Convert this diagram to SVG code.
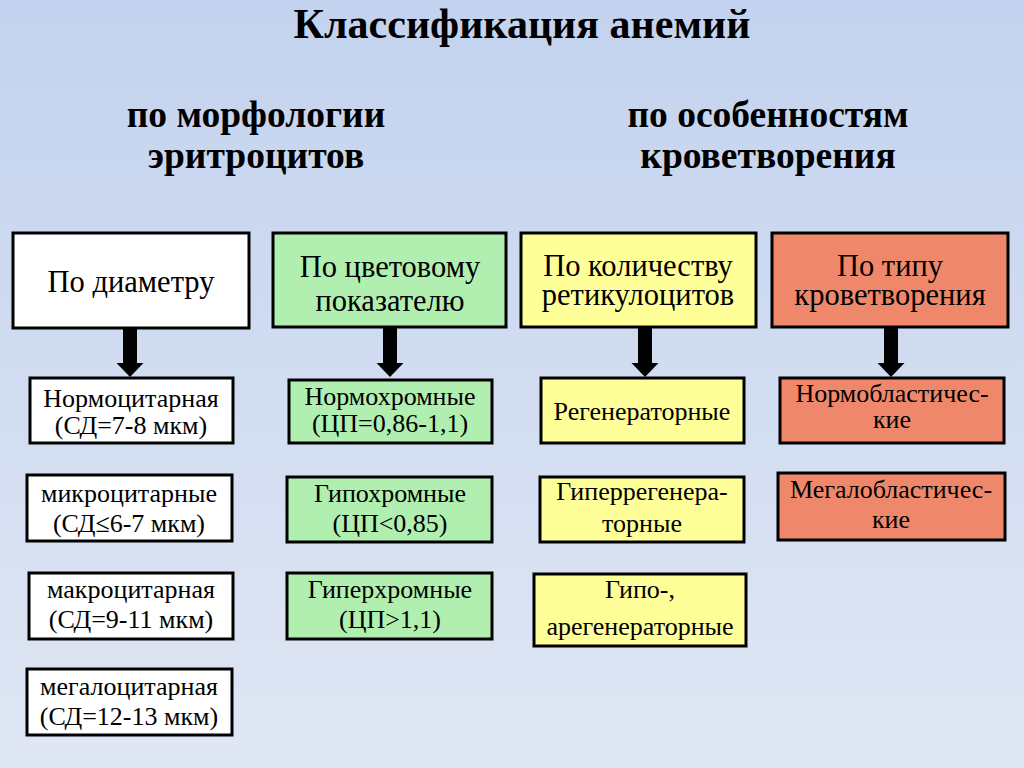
<svg xmlns="http://www.w3.org/2000/svg" xmlns:xlink="http://www.w3.org/1999/xlink" width="1024" height="768" viewBox="0 0 1024 768">
<defs>
<linearGradient id="bg" x1="0" y1="0" x2="0" y2="1">
<stop offset="0" stop-color="#c3d2ee"/>
<stop offset="1" stop-color="#e0e7f4"/>
</linearGradient>
<path id="arr" d="M -7 0 L 7 0 L 7 35 L 13.5 35 L 0 49 L -13.5 35 L -7 35 Z" fill="#000"/>
</defs>
<style>
.b{stroke:#000;stroke-width:3}
.w{fill:#fff}
.g{fill:#b1efb1}
.y{fill:#ffff99}
.s{fill:#ef886b}
text{fill:#000;text-anchor:middle}
.t{font-size:42px;font-weight:bold}
.st{font-size:37.5px;font-weight:bold}
.h{font-size:30.5px}
.c{font-size:26px}
</style>
<rect width="1024" height="768" fill="url(#bg)"/>
<g font-family="Liberation Serif, Times New Roman, DejaVu Serif, serif">
<text class="t" x="522" y="38">Классификация анемий</text>
<text class="st" x="256" y="127">по морфологии</text>
<text class="st" x="256" y="168">эритроцитов</text>
<text class="st" x="768" y="127">по особенностям</text>
<text class="st" x="768" y="168">кроветворения</text>
</g>

<g id="connectors">
<use xlink:href="#arr" x="130" y="328"/>
<use xlink:href="#arr" x="390" y="328"/>
<use xlink:href="#arr" x="645" y="328"/>
<use xlink:href="#arr" x="891" y="328"/>
</g>

<g font-family="Liberation Serif, Times New Roman, DejaVu Serif, serif">
<g id="h1"><rect class="b w" x="13" y="233" width="236" height="95"/><text class="h" x="131" y="292">По диаметру</text></g>
<g id="h2"><rect class="b g" x="273" y="233" width="233" height="94"/><text class="h" x="390" y="277">По цветовому</text><text class="h" x="390" y="311">показателю</text></g>
<g id="h3"><rect class="b y" x="521" y="233" width="235" height="94"/><text class="h" x="638" y="276">По количеству</text><text class="h" x="638" y="305">ретикулоцитов</text></g>
<g id="h4"><rect class="b s" x="772" y="233" width="236" height="94"/><text class="h" x="890" y="276">По типу</text><text class="h" x="890" y="305">кроветворения</text></g>

<g id="n1"><rect class="b w" x="30" y="378" width="203" height="65"/><text class="c" x="131" y="407">Нормоцитарная</text><text class="c" x="131" y="434">(СД=7-8 мкм)</text></g>
<g id="n2"><rect class="b w" x="27" y="475" width="205" height="66"/><text class="c" x="129" y="502">микроцитарные</text><text class="c" x="129" y="532">(СД≤6-7 мкм)</text></g>
<g id="n3"><rect class="b w" x="29" y="573" width="204" height="66"/><text class="c" x="131" y="598">макроцитарная</text><text class="c" x="131" y="628">(СД=9-11 мкм)</text></g>
<g id="n4"><rect class="b w" x="27" y="669" width="205" height="66"/><text class="c" x="129" y="695">мегалоцитарная</text><text class="c" x="129" y="725">(СД=12-13 мкм)</text></g>

<g id="n5"><rect class="b g" x="289" y="380" width="203" height="63"/><text class="c" x="390" y="405">Нормохромные</text><text class="c" x="390" y="432">(ЦП=0,86-1,1)</text></g>
<g id="n6"><rect class="b g" x="287" y="477" width="205" height="65"/><text class="c" x="390" y="502">Гипохромные</text><text class="c" x="390" y="532">(ЦП&lt;0,85)</text></g>
<g id="n7"><rect class="b g" x="287" y="573" width="205" height="66"/><text class="c" x="390" y="598">Гиперхромные</text><text class="c" x="390" y="628">(ЦП&gt;1,1)</text></g>

<g id="n8"><rect class="b y" x="541" y="378" width="203" height="65"/><text class="c" x="642" y="420">Регенераторные</text></g>
<g id="n9"><rect class="b y" x="540" y="477" width="204" height="65"/><text class="c" x="642" y="500">Гиперрегенера-</text><text class="c" x="642" y="532">торные</text></g>
<g id="n10"><rect class="b y" x="534" y="574" width="212" height="72"/><text class="c" x="640" y="598">Гипо-,</text><text class="c" x="640" y="635">арегенераторные</text></g>

<g id="n11"><rect class="b s" x="780" y="378" width="224" height="65"/><text class="c" x="892" y="402">Нормобластичес-</text><text class="c" x="892" y="428">кие</text></g>
<g id="n12"><rect class="b s" x="778" y="473" width="227" height="67"/><text class="c" x="891" y="498">Мегалобластичес-</text><text class="c" x="891" y="528">кие</text></g>
</g>
</svg>
